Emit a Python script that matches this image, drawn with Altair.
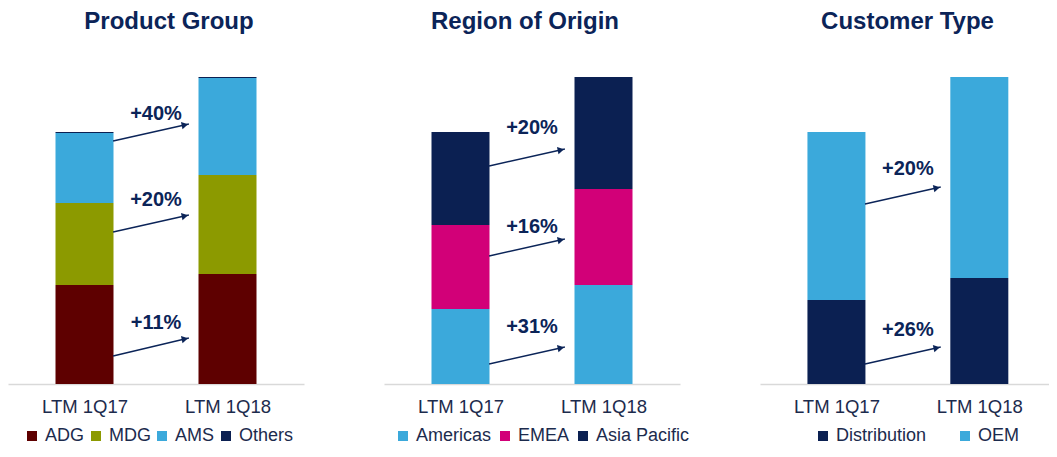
import altair as alt
import pandas as pd

FONT = "Liberation Sans"
NAVY = "#0B2458"
TEXT = "#1C2B4D"

periods = ["LTM 1Q17", "LTM 1Q18"]
period_pos = [0.5, 1.5]

# Product Group
pg_title = "Product Group"
pg_cats = ["ADG", "MDG", "AMS", "Others"]
pg_colors = ["#5E0000", "#8C9A00", "#3BA9DB", "#0B2052"]
pg_1q17 = [99, 82, 70, 1]
pg_1q18 = [110, 99, 97, 1]
pg_growth = ["+11%", "+20%", "+40%"]
pg_arrow_from = [28, 152, 243]
pg_arrow_to = [46, 169, 260]
pg_label_y = [61, 184, 270]

# Region of Origin
ro_title = "Region of Origin"
ro_cats = ["Americas", "EMEA", "Asia Pacific"]
ro_colors = ["#3BA9DB", "#D20078", "#0B2052"]
ro_1q17 = [75, 84, 93]
ro_1q18 = [99, 96, 112]
ro_growth = ["+31%", "+16%", "+20%"]
ro_arrow_from = [20, 128, 218]
ro_arrow_to = [37, 145, 235]
ro_label_y = [57, 157, 256]

# Customer Type
ct_title = "Customer Type"
ct_cats = ["Distribution", "OEM"]
ct_colors = ["#0B2052", "#3BA9DB"]
ct_1q17 = [84, 168]
ct_1q18 = [106, 201]
ct_growth = ["+26%", "+20%"]
ct_arrow_from = [20, 180]
ct_arrow_to = [37, 197]
ct_label_y = [54, 215]

arrow_x1 = 0.70
arrow_x2 = 1.23
label_x = 1.0

label_expr = " : ".join(
    [f"datum.value == {p} ? '{l}'" for p, l in zip(period_pos[:-1], periods[:-1])]
    + [f"'{periods[-1]}'"]
)

FULL_W = 296


def panel(title, cats, colors, v1, v2, growth, a_from, a_to, label_y,
          legend_x, col_pad, title_dx, width=FULL_W):
    rows = []
    for pos, vals in zip(period_pos, [v1, v2]):
        for i, (c, v) in enumerate(zip(cats, vals)):
            rows.append({"pos": pos, "cat": c, "value": v, "idx": i})
    bars_df = pd.DataFrame(rows)

    xscale = alt.Scale(domain=[0, 2 * width / FULL_W], nice=False, zero=False)
    yscale = alt.Scale(domain=[0, 307], nice=False)

    bars = alt.Chart(bars_df).mark_bar(size=58).encode(
        x=alt.X("pos:Q", scale=xscale, title=None,
                axis=alt.Axis(values=period_pos, labelExpr=label_expr,
                              ticks=False, grid=False, domainColor="#D9D9D9",
                              domainWidth=1.5, labelFontSize=18.5,
                              labelFont=FONT, labelColor=TEXT,
                              labelPadding=13)),
        y=alt.Y("value:Q", stack="zero", scale=yscale, axis=None),
        color=alt.Color("cat:N", scale=alt.Scale(domain=cats, range=colors),
                        legend=alt.Legend(orient="none", legendX=legend_x,
                                          legendY=350, direction="horizontal",
                                          title=None, symbolType="square",
                                          symbolSize=100, symbolStrokeWidth=0,
                                          labelFontSize=18, labelFont=FONT,
                                          labelColor=TEXT, labelOffset=4,
                                          columnPadding=col_pad, padding=0)),
        order=alt.Order("idx:Q", sort="ascending"),
    )

    arr_df = pd.DataFrame({
        "x1": [arrow_x1] * len(a_from),
        "x2": [arrow_x2] * len(a_from),
        "y1": a_from,
        "y2": a_to,
        "lx": [label_x] * len(growth),
        "ly": label_y,
        "label": growth,
    })
    rule = alt.Chart(arr_df).mark_rule(color=NAVY, strokeWidth=1.4).encode(
        x=alt.X("x1:Q", scale=xscale), x2="x2:Q",
        y=alt.Y("y1:Q", scale=yscale), y2="y2:Q",
    )
    heads = alt.Chart(arr_df).transform_calculate(
        xh="datum.x2 - 0.028", yh="datum.y2 - 0.9"
    ).mark_point(shape="triangle-right", filled=True, size=55, angle=348,
                 color=NAVY, opacity=1).encode(
        x=alt.X("xh:Q", scale=xscale), y=alt.Y("yh:Q", scale=yscale),
    )
    texts = alt.Chart(arr_df).mark_text(
        fontSize=20, fontWeight="bold", font=FONT, color=NAVY, baseline="middle"
    ).encode(
        x=alt.X("lx:Q", scale=xscale), y=alt.Y("ly:Q", scale=yscale),
        text="label:N",
    )
    return alt.layer(bars, rule, heads, texts).resolve_scale(
        color="independent"
    ).properties(
        width=width, height=307,
        title=alt.TitleParams(title, fontSize=24, font=FONT, fontWeight="bold",
                              color=NAVY, anchor="middle", offset=43,
                              dx=title_dx),
    )


p1 = panel(pg_title, pg_cats, pg_colors, pg_1q17, pg_1q18, pg_growth,
           pg_arrow_from, pg_arrow_to, pg_label_y, 15, 2, 13)
p2 = panel(ro_title, ro_cats, ro_colors, ro_1q17, ro_1q18, ro_growth,
           ro_arrow_from, ro_arrow_to, ro_label_y, 10, 4, -7)
p3 = panel(ct_title, ct_cats, ct_colors, ct_1q17, ct_1q18, ct_growth,
           ct_arrow_from, ct_arrow_to, ct_label_y, 54, 29, 3, width=289)

chart = alt.hconcat(p1, p2, p3, spacing=80, bounds="flush").resolve_scale(
    color="independent"
).configure_view(stroke=None).properties(
    padding={"left": 0, "top": 2, "right": 0, "bottom": 0}
)

chart.save("out.html", embed_options={"renderer": "svg", "actions": False})
